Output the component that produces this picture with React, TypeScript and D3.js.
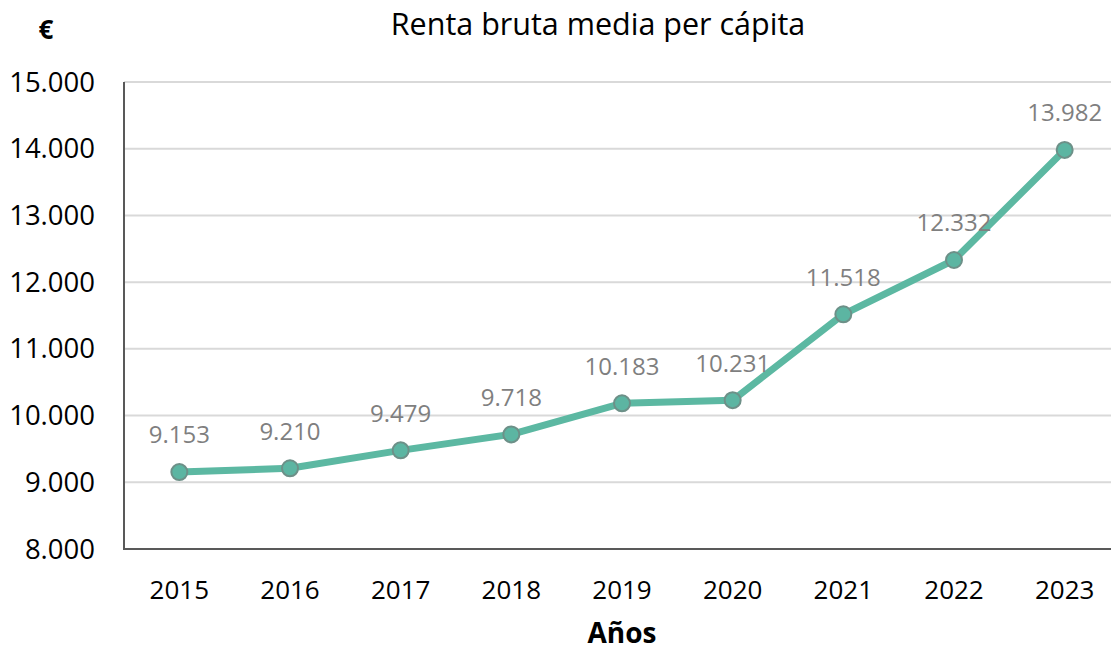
import * as d3 from "d3";
import { useEffect, useRef } from "react";

const years = ["2015", "2016", "2017", "2018", "2019", "2020", "2021", "2022", "2023"];
const renta = [9153, 9210, 9479, 9718, 10183, 10231, 11518, 12332, 13982];
const yTicks = [8000, 9000, 10000, 11000, 12000, 13000, 14000, 15000];

const W = 1111;
const H = 651;
const font = "'Open Sans', sans-serif";

export default function App() {
  const svgRef = useRef<SVGSVGElement>(null);

  useEffect(() => {
    const svg = d3.select(svgRef.current);
    svg.selectAll("*").remove();

    const left = 124, right = 1120, top = 82, bottom = 549;
    const x = d3.scaleBand().domain(years).range([left, right]);
    const y = d3.scaleLinear().domain([8000, 15000]).range([bottom, top]);
    const fmt = (v: number) => d3.format(",")(v).replace(/,/g, ".");
    const cx = (i: number) => (x(years[i]) as number) + x.bandwidth() / 2;

    svg.append("g")
      .selectAll("line")
      .data(yTicks.slice(1))
      .join("line")
      .attr("x1", left).attr("x2", W)
      .attr("y1", d => y(d)).attr("y2", d => y(d))
      .attr("stroke", "#d9d9d9").attr("stroke-width", 2);

    svg.append("line")
      .attr("x1", left).attr("x2", left).attr("y1", top).attr("y2", bottom)
      .attr("stroke", "#595959").attr("stroke-width", 2);
    svg.append("line")
      .attr("x1", left - 1).attr("x2", W).attr("y1", bottom).attr("y2", bottom)
      .attr("stroke", "#595959").attr("stroke-width", 2);

    svg.append("g")
      .selectAll("text")
      .data(yTicks)
      .join("text")
      .attr("x", 95).attr("y", d => y(d))
      .attr("dy", "0.35em")
      .attr("text-anchor", "end")
      .attr("font-family", font).attr("font-size", 27.5).attr("fill", "#000")
      .text(d => fmt(d));

    svg.append("g")
      .selectAll("text")
      .data(years)
      .join("text")
      .attr("x", (d, i) => cx(i)).attr("y", 590)
      .attr("dy", "0.35em")
      .attr("text-anchor", "middle")
      .attr("font-family", font).attr("font-size", 26).attr("fill", "#000")
      .text(d => d);

    const line = d3.line<number>().x((d, i) => cx(i)).y(d => y(d));
    svg.append("path")
      .attr("d", line(renta))
      .attr("fill", "none")
      .attr("stroke", "#5cb8a2")
      .attr("stroke-width", 7)
      .attr("stroke-linejoin", "round");

    svg.append("g")
      .selectAll("circle")
      .data(renta)
      .join("circle")
      .attr("cx", (d, i) => cx(i)).attr("cy", d => y(d))
      .attr("r", 8)
      .attr("fill", "#5cb5a2").attr("stroke", "#6d9088").attr("stroke-width", 2);

    svg.append("g")
      .selectAll("text")
      .data(renta)
      .join("text")
      .attr("x", (d, i) => cx(i)).attr("y", d => y(d) - 37)
      .attr("dy", "0.35em")
      .attr("text-anchor", "middle")
      .attr("font-family", font).attr("font-size", 24).attr("fill", "#7f7f7f")
      .text(d => fmt(d));

    svg.append("text")
      .attr("x", 598).attr("y", 24).attr("dy", "0.35em")
      .attr("text-anchor", "middle")
      .attr("font-family", font).attr("font-size", 30.5).attr("fill", "#000")
      .text("Renta bruta media per cápita");

    svg.append("text")
      .attr("x", 46).attr("y", 30).attr("dy", "0.35em")
      .attr("text-anchor", "middle")
      .attr("font-family", font).attr("font-size", 26).attr("font-weight", "bold").attr("fill", "#000")
      .text("€");

    svg.append("text")
      .attr("x", 622).attr("y", 633).attr("dy", "0.35em")
      .attr("text-anchor", "middle")
      .attr("font-family", font).attr("font-size", 28).attr("font-weight", "bold").attr("fill", "#000")
      .text("Años");
  }, []);

  return (
    <svg
      ref={svgRef}
      width={W}
      height={H}
      style={{ position: "absolute", left: 0, top: 0 }}
      xmlns="http://www.w3.org/2000/svg"
    />
  );
}
